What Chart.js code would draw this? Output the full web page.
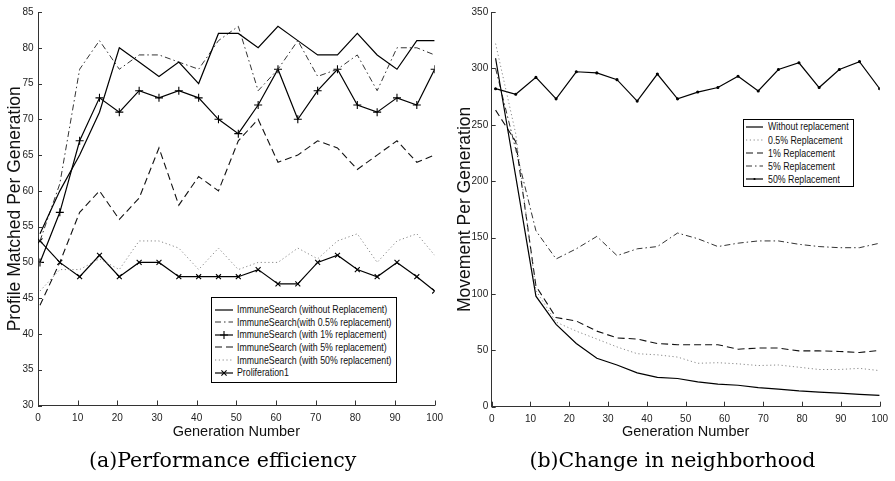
<!DOCTYPE html>
<html><head><meta charset="utf-8">
<script src="https://cdn.jsdelivr.net/npm/chart.js@4.4.1/dist/chart.umd.min.js"></script>
<style>
html,body{margin:0;padding:0;background:#fff;}
body{width:895px;height:481px;position:relative;overflow:hidden;}
canvas{position:absolute;top:0;}
.legend{position:absolute;background:#fff;border:1px solid #000;box-sizing:border-box;font-family:'Liberation Sans Narrow','Liberation Sans',Arial,sans-serif;color:#111;}
.legend .row{position:absolute;left:0;white-space:nowrap;}
.legend svg{position:absolute;}
.legend span{position:absolute;white-space:nowrap;transform:scaleX(0.8);transform-origin:left center;}
.caption{position:absolute;font-family:'DejaVu Serif',serif;font-size:20.5px;line-height:20.5px;white-space:nowrap;color:#000;}
</style>
</head>
<body>
<canvas id="cA" width="450" height="450" style="left:0"></canvas>
<canvas id="cB" width="445" height="450" style="left:450px"></canvas>
<div id="legA" class="legend" style="left:211px;top:297px;width:186px;height:86px;"></div>
<div id="legB" class="legend" style="left:743px;top:119px;width:111px;height:68px;"></div>
<div id="capA" class="caption">(a)Performance efficiency</div>
<div id="capB" class="caption">(b)Change in neighborhood</div>
<script>
// ---------- data: chart (a) ----------
const genA = [0.5, 5.5, 10.5, 15.5, 20.5, 25.5, 30.5, 35.5, 40.5, 45.5, 50.5, 55.5, 60.5, 65.5, 70.5, 75.5, 80.5, 85.5, 90.5, 95.5, 100];
const namesA = ['ImmuneSearch (without Replacement)', 'ImmuneSearch(with 0.5% replacement)', 'ImmuneSearch (with 1% replacement)', 'ImmuneSearch (with 5% replacement)', 'ImmuneSearch (with 50% replacement)', 'Proliferation1'];
const aWithout = [54, 60, 65, 71, 80, 78, 76, 78, 75, 82, 82, 80, 83, 81, 79, 79, 82, 79, 77, 81, 81];
const aRep05   = [53, 61, 77, 81, 77, 79, 79, 78, 77, 81, 83, 74, 77, 81, 76, 77, 79, 74, 80, 80, 79];
const aRep1    = [50, 57, 67, 73, 71, 74, 73, 74, 73, 70, 68, 72, 77, 70, 74, 77, 72, 71, 73, 72, 77];
const aRep5    = [44, 50, 57, 60, 56, 59, 66, 58, 62, 60, 67, 70, 64, 65, 67, 66, 63, 65, 67, 64, 65];
const aRep50   = [46, 49, 49, 50.5, 49, 53, 53, 52, 49, 52, 49, 50, 50, 52, 50.5, 53, 54, 50, 53, 54, 51];
const aProlif  = [53, 50, 48, 51, 48, 50, 50, 48, 48, 48, 48, 49, 47, 47, 50, 51, 49, 48, 50, 48, 46];
const yTicksA = {min: 30, max: 85, step: 5};
const xTicks = {min: 0, max: 100, step: 10};

// ---------- data: chart (b) ----------
const genB = [1, 6.2, 11.4, 16.6, 21.8, 27.1, 32.3, 37.5, 42.7, 47.9, 53.1, 58.3, 63.5, 68.7, 73.9, 79.2, 84.4, 89.6, 94.8, 100];
const namesB = ['Without replacement', '0.5% Replacement', '1% Replacement', '5% Replacement', '50% Replacement'];
const bWithout = [309, 204, 98, 73, 56, 43, 37, 30, 26, 25, 22, 20, 19, 17, 15.5, 14, 13, 12, 11, 10];
const bRep05   = [322, 242, 103, 75, 67, 60, 53, 47, 46, 44, 38.5, 39, 38, 36.5, 37, 35, 33, 33, 34, 32];
const bRep1    = [263, 235, 107, 79, 76, 67, 61, 60, 56, 55, 55, 55, 51, 52, 52, 49.5, 49.5, 49, 48, 50];
const bRep5    = [300, 228, 156, 131, 140, 151, 134, 140, 142, 154, 149, 142, 145, 147, 147, 144, 142, 141, 141, 145];
const bRep50   = [282, 277, 292, 273, 297, 296, 290, 271, 295, 273, 279, 283, 293, 280, 299, 305, 283, 299, 306, 282];
const yTicksB = {min: 0, max: 350, step: 50};

// ---------- styles ----------
const SANS = "'Liberation Sans',Arial,sans-serif";
const ST = {
  solid:   {color: '#000', dash: [], width: 1.2},
  dashdot: {color: '#333', dash: [6, 3, 1.5, 3], width: 1},
  dashed:  {color: '#111', dash: [7, 4], width: 1.1},
  dotted:  {color: '#888', dash: [1.2, 2.6], width: 1},
};
function pts(xs, ys){ return xs.map((x, i) => ({x: x, y: ys[i]})); }
function ds(label, xs, ys, st, marker, r){
  return {label, data: pts(xs, ys), borderColor: st.color, borderDash: st.dash, borderWidth: st.width,
    pointStyle: marker || 'circle', pointRadius: marker ? (r || 3.5) : 0, pointBorderColor: '#000',
    pointBackgroundColor: '#000', pointBorderWidth: 1.1, tension: 0, fill: false};
}
const innerTicks = {
  id: 'innerTicks',
  afterDraw(chart){
    const {ctx, chartArea: a, scales: {x, y}} = chart;
    ctx.save(); ctx.strokeStyle = '#333'; ctx.lineWidth = 1; ctx.setLineDash([]);
    x.ticks.forEach(t => { const p = Math.round(x.getPixelForValue(t.value)) + 0.5; ctx.beginPath(); ctx.moveTo(p, a.bottom); ctx.lineTo(p, a.bottom - 5); ctx.stroke(); });
    y.ticks.forEach(t => { const p = Math.round(y.getPixelForValue(t.value)) + 0.5; ctx.beginPath(); ctx.moveTo(a.left, p); ctx.lineTo(a.left + 4, p); ctx.stroke(); });
    ctx.restore();
  }
};
function opts(yr, yTitle, yWidth, xHeight, padRight, yPad){
  const tickFont = {family: SANS, size: 10};
  return {
    responsive: false, animation: false, devicePixelRatio: 1,
    layout: {padding: {top: 12, right: padRight, left: 0, bottom: 0}},
    plugins: {legend: {display: false}, tooltip: {enabled: false}},
    scales: {
      x: {type: 'linear', min: xTicks.min, max: xTicks.max,
        ticks: {stepSize: xTicks.step, font: tickFont, color: '#222', padding: 7, maxRotation: 0},
        grid: {display: false, drawTicks: false}, border: {display: true, color: '#333', width: 1},
        title: {display: true, text: 'Generation Number', color: '#111', font: {family: SANS, size: 14.5}, padding: {top: 0, bottom: 9.3}},
        afterFit(s){ s.height = xHeight; }},
      y: {type: 'linear', min: yr.min, max: yr.max,
        ticks: {stepSize: yr.step, font: tickFont, color: '#222', padding: yPad},
        grid: {display: false, drawTicks: false}, border: {display: true, color: '#333', width: 1},
        title: {display: true, text: yTitle, color: '#111', font: {family: SANS, size: 17.5}, padding: {top: 4.5, bottom: 0}},
        afterFit(s){ s.width = yWidth; }}
    }
  };
}

new Chart(document.getElementById('cA'), {
  type: 'line',
  data: {datasets: [
    ds(namesA[0], genA, aWithout, ST.solid),
    ds(namesA[1], genA, aRep05, ST.dashdot),
    ds(namesA[2], genA, aRep1, ST.solid, 'cross', 4),
    ds(namesA[3], genA, aRep5, ST.dashed),
    ds(namesA[4], genA, aRep50, ST.dotted),
    ds(namesA[5], genA, aProlif, ST.solid, 'crossRot', 3.5)
  ]},
  options: opts(yTicksA, 'Profile Matched Per Generation', 38, 44.5, 13, 4.5),
  plugins: [innerTicks]
});
new Chart(document.getElementById('cB'), {
  type: 'line',
  data: {datasets: [
    ds(namesB[0], genB, bWithout, ST.solid),
    ds(namesB[1], genB, bRep05, ST.dotted),
    ds(namesB[2], genB, bRep1, ST.dashed),
    ds(namesB[3], genB, bRep5, ST.dashdot),
    ds(namesB[4], genB, bRep50, ST.solid, 'circle', 1)
  ]},
  options: opts(yTicksB, 'Movement Per Generation', 41.7, 43.3, 8.3, 3.5),
  plugins: [innerTicks]
});

// ---------- HTML legends ----------
function sample(st, marker, w){
  const dash = st.dash.length ? `stroke-dasharray="${st.dash.join(',')}"` : '';
  let m = '';
  const c = w / 2;
  if (marker === 'cross') m = `<path d="M${c-4},5 H${c+4} M${c},1 V9" stroke="#000" stroke-width="1.1"/>`;
  if (marker === 'crossRot') m = `<path d="M${c-2.6},2.4 L${c+2.6},7.6 M${c+2.6},2.4 L${c-2.6},7.6" stroke="#000" stroke-width="1.1"/>`;
  if (marker === 'circle') m = `<circle cx="${c}" cy="5" r="1.1" fill="#000"/>`;
  return `<svg width="${w}" height="10" viewBox="0 0 ${w} 10"><line x1="0" y1="5" x2="${w}" y2="5" stroke="${st.color}" stroke-width="${st.width}" ${dash}/>${m}</svg>`;
}
function buildLegend(el, items, cfg){
  let h = '';
  items.forEach((it, i) => {
    const cy = cfg.y0 + cfg.dy * i;
    h += `<div class="row" style="top:${cy - 5}px;left:${cfg.sx}px;height:10px;width:${cfg.sw}px;">${sample(it.st, it.m, cfg.sw)}</div>`;
    h += `<span style="left:${cfg.tx}px;top:${cy - cfg.fs * 0.6}px;font-size:${cfg.fs}px;line-height:${cfg.fs * 1.2}px;">${it.name}</span>`;
  });
  el.innerHTML = h;
}
buildLegend(document.getElementById('legA'), [
  {name: namesA[0], st: ST.solid}, {name: namesA[1], st: ST.dashdot}, {name: namesA[2], st: ST.solid, m: 'cross'},
  {name: namesA[3], st: ST.dashed}, {name: namesA[4], st: ST.dotted}, {name: namesA[5], st: ST.solid, m: 'crossRot'}
], {y0: 11.5, dy: 12.65, sx: 3, sw: 18, tx: 25, fs: 11});
buildLegend(document.getElementById('legB'), [
  {name: namesB[0], st: ST.solid}, {name: namesB[1], st: ST.dotted}, {name: namesB[2], st: ST.dashed},
  {name: namesB[3], st: ST.dashdot}, {name: namesB[4], st: ST.solid, m: 'circle'}
], {y0: 7, dy: 13.1, sx: 1.5, sw: 17, tx: 23.5, fs: 11});

// captions centred
function placeCap(id, cx, top){ const e = document.getElementById(id); e.style.left = (cx - e.offsetWidth / 2) + 'px'; e.style.top = top + 'px'; }
placeCap('capA', 222.5, 450);
placeCap('capB', 672.5, 450);
</script>
</body></html>
